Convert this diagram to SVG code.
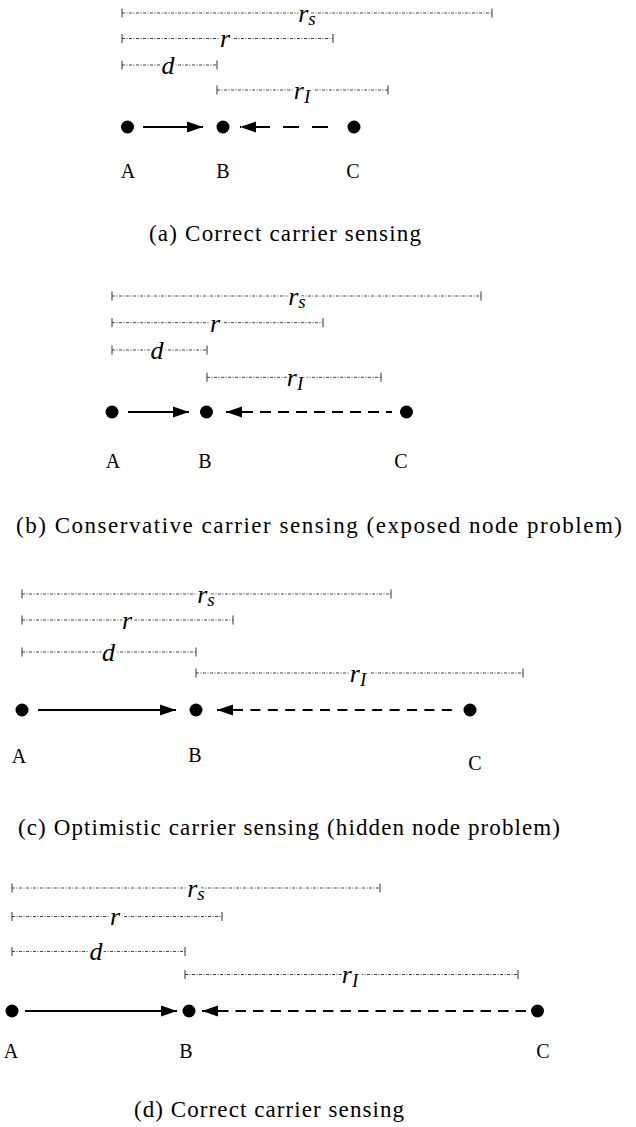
<svg xmlns="http://www.w3.org/2000/svg" width="636" height="1127" viewBox="0 0 636 1127">
<style>
.rng{stroke:#444;stroke-width:1;fill:none;stroke-dasharray:3 1.5 1 1.5}
.tick{stroke:#333;stroke-width:1}
.lbl{font-family:"Liberation Serif",serif;font-style:italic;font-size:26px;text-anchor:middle;fill:#000;paint-order:stroke;stroke:#fff;stroke-width:5px;stroke-linejoin:round}
.sub{font-size:19px}
.node{fill:#000}
.name{font-family:"Liberation Serif",serif;font-size:20px;text-anchor:middle;fill:#000}
.cap{font-family:"Liberation Serif",serif;font-size:23px;fill:#000}
.sol{stroke:#000;stroke-width:2;fill:none}
.dsh{stroke:#000;stroke-width:2;fill:none}
</style>
<defs>
<marker id="ah" markerUnits="userSpaceOnUse" markerWidth="17" markerHeight="12" refX="16" refY="6" orient="auto">
<path d="M0,0.5 L16,6 L0,11.5 z" fill="#000"/>
</marker>
</defs>

<!-- panel (a) -->
<g id="ranges-a">
<path class="rng" d="M122,13H492M122,38.5H333M122,65H217M217,90H388"/>
<path class="tick" d="M122,8.5v9M492,8.5v9M122,34v9M333,34v9M122,60.5v9M217,60.5v9M217,85.5v9M388,85.5v9"/>
<text class="lbl" x="307" y="22">r<tspan class="sub" dy="3">s</tspan></text>
<text class="lbl" x="225" y="47">r</text>
<text class="lbl" x="168" y="74">d</text>
<text class="lbl" x="302" y="99">r<tspan class="sub" dy="4">I</tspan></text>
</g>
<g id="connectors-a">
<line class="sol" x1="143" y1="127" x2="203" y2="127" marker-end="url(#ah)"/>
<line class="dsh" x1="328" y1="127" x2="240" y2="127" stroke-dasharray="16 13" marker-end="url(#ah)"/>
</g>
<g id="node-a-A"><circle class="node" cx="127.5" cy="127" r="6.5"/><text class="name" x="128" y="178">A</text></g>
<g id="node-a-B"><circle class="node" cx="223" cy="127" r="6.5"/><text class="name" x="223" y="178">B</text></g>
<g id="node-a-C"><circle class="node" cx="354" cy="127" r="6.5"/><text class="name" x="353" y="178">C</text></g>
<text class="cap" x="149" y="241" textLength="272" lengthAdjust="spacing">(a) Correct carrier sensing</text>

<!-- panel (b) -->
<g id="ranges-b">
<path class="rng" d="M112,296H481M112,322.7H323M112,350H207M207,377.3H381"/>
<path class="tick" d="M112,291.5v9M481,291.5v9M112,318.2v9M323,318.2v9M112,345.5v9M207,345.5v9M207,372.8v9M381,372.8v9"/>
<text class="lbl" x="297" y="305">r<tspan class="sub" dy="3">s</tspan></text>
<text class="lbl" x="215" y="332">r</text>
<text class="lbl" x="157" y="359">d</text>
<text class="lbl" x="295" y="386">r<tspan class="sub" dy="4">I</tspan></text>
</g>
<g id="connectors-b">
<line class="sol" x1="128" y1="412" x2="189" y2="412" marker-end="url(#ah)"/>
<line class="dsh" x1="242" y1="412" x2="392" y2="412" stroke-dasharray="11 7"/>
<line class="dsh" x1="243" y1="412" x2="226" y2="412" marker-end="url(#ah)"/>
</g>
<g id="node-b-A"><circle class="node" cx="112" cy="412" r="6.5"/><text class="name" x="113" y="468">A</text></g>
<g id="node-b-B"><circle class="node" cx="206.5" cy="412" r="6.5"/><text class="name" x="205" y="468">B</text></g>
<g id="node-b-C"><circle class="node" cx="406.5" cy="412" r="6.5"/><text class="name" x="401" y="468">C</text></g>
<text class="cap" x="16" y="533" textLength="606" lengthAdjust="spacing">(b) Conservative carrier sensing (exposed node problem)</text>

<!-- panel (c) -->
<g id="ranges-c">
<path class="rng" d="M22,594H391M22,620H233M22,652H196M196,673H523"/>
<path class="tick" d="M22,589.5v9M391,589.5v9M22,615.5v9M233,615.5v9M22,647.5v9M196,647.5v9M196,668.5v9M523,668.5v9"/>
<text class="lbl" x="206" y="603">r<tspan class="sub" dy="3">s</tspan></text>
<text class="lbl" x="127" y="629">r</text>
<text class="lbl" x="108.5" y="661">d</text>
<text class="lbl" x="358" y="682">r<tspan class="sub" dy="4">I</tspan></text>
</g>
<g id="connectors-c">
<line class="sol" x1="38" y1="710" x2="176" y2="710" marker-end="url(#ah)"/>
<line class="dsh" x1="233" y1="710" x2="454" y2="710" stroke-dasharray="10 7.4"/>
<line class="dsh" x1="234" y1="710" x2="217" y2="710" marker-end="url(#ah)"/>
</g>
<g id="node-c-A"><circle class="node" cx="22" cy="710" r="6.5"/><text class="name" x="19" y="763">A</text></g>
<g id="node-c-B"><circle class="node" cx="196" cy="710" r="6.5"/><text class="name" x="195" y="762">B</text></g>
<g id="node-c-C"><circle class="node" cx="470" cy="710" r="6.5"/><text class="name" x="475" y="770">C</text></g>
<text class="cap" x="18" y="835" textLength="542" lengthAdjust="spacing">(c) Optimistic carrier sensing (hidden node problem)</text>

<!-- panel (d) -->
<g id="ranges-d">
<path class="rng" d="M12,888H380M12,916.5H222M12,951.5H185M185,974.5H518"/>
<path class="tick" d="M12,883.5v9M380,883.5v9M12,912v9M222,912v9M12,947v9M185,947v9M185,970v9M518,970v9"/>
<text class="lbl" x="196" y="897">r<tspan class="sub" dy="3">s</tspan></text>
<text class="lbl" x="115" y="925">r</text>
<text class="lbl" x="96" y="960">d</text>
<text class="lbl" x="350" y="983">r<tspan class="sub" dy="4">I</tspan></text>
</g>
<g id="connectors-d">
<line class="sol" x1="25" y1="1011" x2="177" y2="1011" marker-end="url(#ah)"/>
<line class="dsh" x1="218" y1="1011" x2="528" y2="1011" stroke-dasharray="10.5 7"/>
<line class="dsh" x1="219" y1="1011" x2="202" y2="1011" marker-end="url(#ah)"/>
</g>
<g id="node-d-A"><circle class="node" cx="12" cy="1011" r="6.5"/><text class="name" x="11" y="1058">A</text></g>
<g id="node-d-B"><circle class="node" cx="189" cy="1011" r="6.5"/><text class="name" x="186" y="1058">B</text></g>
<g id="node-d-C"><circle class="node" cx="537.5" cy="1011" r="6.5"/><text class="name" x="543" y="1058">C</text></g>
<text class="cap" x="134" y="1117" textLength="270" lengthAdjust="spacing">(d) Correct carrier sensing</text>
</svg>
